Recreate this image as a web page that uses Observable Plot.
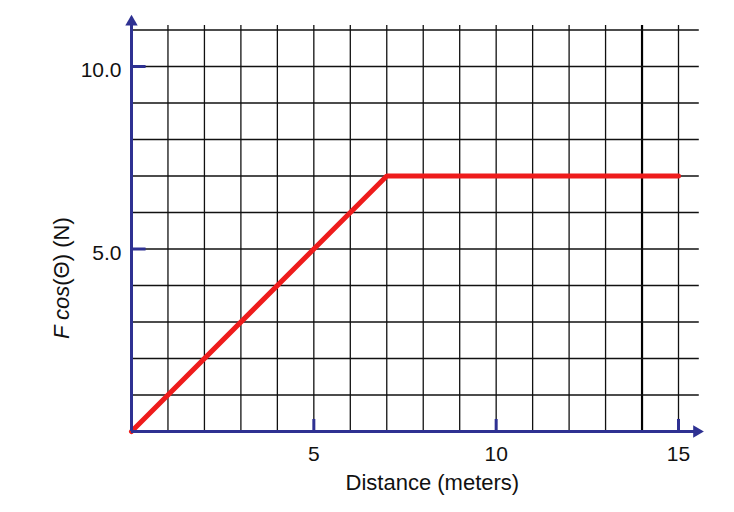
<!DOCTYPE html>
<html>
<head>
<meta charset="utf-8">
<script src="https://cdn.jsdelivr.net/npm/d3@7"></script>
<script src="https://cdn.jsdelivr.net/npm/@observablehq/plot@0.6"></script>
<style>
  html, body { margin: 0; padding: 0; background: #fff; }
  #chart svg { display: block; }
</style>
</head>
<body>
<div id="chart"></div>
<script>
// Data
const distance = [0, 7, 15];
const force = [0, 7, 7];
const xGridLines = [1, 2, 3, 4, 5, 6, 7, 8, 9, 10, 11, 12, 13, 15];
const xHeavyLine = [14];
const yGridLines = [1, 2, 3, 4, 5, 6, 7, 8, 9, 10, 11];
const xTickValues = [5, 10, 15];
const yTickValues = [5, 10];
const xLabel = "Distance (meters)";

const points = distance.map((d, i) => ({x: d, y: force[i]}));
const axisColor = "#2e3192";
const font = "Liberation Sans, Arial, sans-serif";

const chart = Plot.plot({
  width: 734,
  height: 512,
  marginLeft: 131,
  marginRight: 56,
  marginTop: 66,
  marginBottom: 81,
  style: {fontFamily: font, background: "#fff", overflow: "visible"},
  x: {domain: [0, 15]},
  y: {domain: [0, 10]},
  marks: [
    Plot.ruleX(xGridLines, {y1: 0, y2: 11.12, stroke: "#111", strokeWidth: 1.3}),
    Plot.ruleX(xHeavyLine, {y1: 0, y2: 11.12, stroke: "#000", strokeWidth: 2.2}),
    Plot.ruleY(yGridLines, {x1: 0, x2: 15.57, stroke: "#111", strokeWidth: 1.3}),
    Plot.line(points, {x: "x", y: "y", stroke: "#ee1c1c", strokeWidth: 5, strokeLinejoin: "miter"}),
    Plot.ruleY([0], {x1: 0, x2: 15.5, stroke: axisColor, strokeWidth: 3}),
    Plot.ruleX([0], {y1: 0, y2: 11.2, stroke: axisColor, strokeWidth: 3}),
    Plot.ruleX(xTickValues, {y1: 0, y2: 0.33, stroke: axisColor, strokeWidth: 3}),
    Plot.ruleY(yTickValues, {x1: 0, x2: 0.4, stroke: axisColor, strokeWidth: 3}),
    Plot.dot([{x: 15.5, y: 0}], {x: "x", y: "y", symbol: "triangle", r: 4.6, fill: axisColor, stroke: "none", rotate: 90}),
    Plot.dot([{x: 0, y: 11.22}], {x: "x", y: "y", symbol: "triangle", r: 4.6, fill: axisColor, stroke: "none"}),
    Plot.axisX(xTickValues, {tickSize: 0, tickPadding: 15, fontSize: 21, fill: "#111", label: null, tickFormat: d => String(d)}),
    Plot.axisY(yTickValues, {tickSize: 0, tickPadding: 10, fontSize: 21, fill: "#111", label: null, tickFormat: d => d.toFixed(1), dy: 4}),
    Plot.text([xLabel], {x: () => 8.25, y: () => -1.42, text: d => d, fontSize: 22, fill: "#111"}),
    Plot.text(["ylabel"], {x: () => -1.9, y: () => 4.2, text: d => d, fontSize: 22, fill: "#111", rotate: -90, className: "ylab"})
  ]
});

document.getElementById("chart").appendChild(chart);

// Mixed-style y-axis label: italic "F cos", upright "(Θ) (N)"
const t = d3.select(chart).selectAll(".ylab text");
t.text(null);
t.append("tspan").attr("font-style", "italic").text("F cos");
t.append("tspan").text("(Θ) (N)");
</script>
</body>
</html>
